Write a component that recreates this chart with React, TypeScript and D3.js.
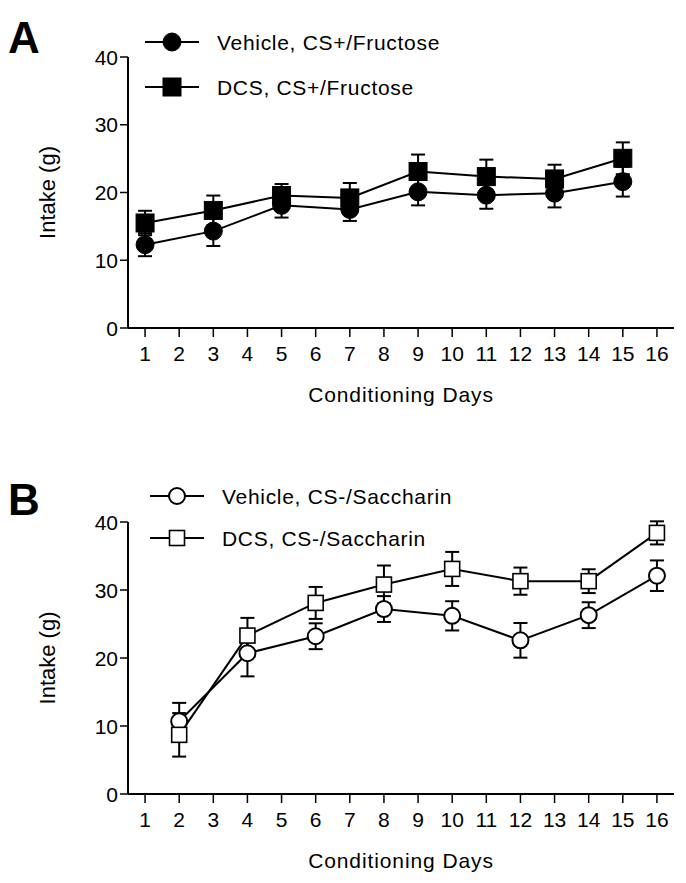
import React from "react";
import * as d3 from "d3";

const dayTicks = [1, 2, 3, 4, 5, 6, 7, 8, 9, 10, 11, 12, 13, 14, 15, 16];
const yTicks = [0, 10, 20, 30, 40];

const daysA = [1, 3, 5, 7, 9, 11, 13, 15];
const vehicleA = [12.3, 14.3, 18.1, 17.5, 20.1, 19.6, 19.9, 21.6];
const vehicleAErr = [1.7, 2.2, 1.8, 1.7, 2.0, 2.0, 2.1, 2.2];
const dcsA = [15.5, 17.35, 19.55, 19.2, 23.1, 22.35, 22.0, 25.05];
const dcsAErr = [1.8, 2.2, 1.7, 2.2, 2.5, 2.5, 2.1, 2.35];

const daysB = [2, 4, 6, 8, 10, 12, 14, 16];
const vehicleB = [10.7, 20.7, 23.2, 27.2, 26.2, 22.6, 26.3, 32.1];
const vehicleBErr = [2.7, 3.4, 1.9, 1.9, 2.15, 2.55, 1.9, 2.25];
const dcsB = [8.7, 23.3, 28.1, 30.8, 33.1, 31.3, 31.3, 38.4];
const dcsBErr = [3.2, 2.6, 2.35, 2.8, 2.5, 2.0, 1.75, 1.7];

const FONT = "'Liberation Sans', Arial, Helvetica, sans-serif";

type Series = {
  name: string;
  days: number[];
  values: number[];
  errs: number[];
  shape: "circle" | "square";
  filled: boolean;
};

type PanelProps = {
  letter: string;
  y0: number;
  y40: number;
  series: Series[];
  legendY: number[];
  legendX: number;
  markerR: number;
  letterY: number;
};

function Marker({ shape, filled, cx, cy, r }: { shape: string; filled: boolean; cx: number; cy: number; r: number }) {
  const fill = filled ? "#000" : "#fff";
  if (shape === "circle") {
    return <circle cx={cx} cy={cy} r={r} fill={fill} stroke="#000" strokeWidth={filled ? 1 : 2} />;
  }
  const s = filled ? r * 2 : r * 2 - 1;
  return <rect x={cx - s / 2} y={cy - s / 2} width={s} height={s} fill={fill} stroke="#000" strokeWidth={filled ? 1 : 1.6} />;
}

function Panel({ letter, y0, y40, series, legendY, legendX, markerR, letterY }: PanelProps) {
  const x = d3.scaleLinear().domain([0.5, 16.5]).range([128, 674]);
  const y = d3.scaleLinear().domain([0, 40]).range([y0, y40]);
  const line = d3
    .line<[number, number]>()
    .x((d) => x(d[0]))
    .y((d) => y(d[1]));
  const cap = 7;
  return (
    <g>
      <text x={8} y={letterY} fontFamily={FONT} fontWeight="bold" fontSize={44}>
        {letter}
      </text>
      <line x1={x(0.5)} x2={x(0.5)} y1={y(40)} y2={y(0)} stroke="#000" strokeWidth={2} />
      <line x1={x(0.5)} x2={x(16.5)} y1={y(0)} y2={y(0)} stroke="#000" strokeWidth={2} />
      {yTicks.map((t) => (
        <g key={"y" + t}>
          <line x1={x(0.5) - 8} x2={x(0.5)} y1={y(t)} y2={y(t)} stroke="#000" strokeWidth={1.5} />
          <text x={x(0.5) - 10} y={y(t)} dy="0.36em" textAnchor="end" fontFamily={FONT} fontSize={21}>
            {t}
          </text>
        </g>
      ))}
      {dayTicks.map((t) => (
        <g key={"x" + t}>
          <line x1={x(t)} x2={x(t)} y1={y(0)} y2={y(0) + 9} stroke="#000" strokeWidth={1.5} />
          <text x={x(t)} y={y(0) + 25} dy="0.36em" textAnchor="middle" fontFamily={FONT} fontSize={21}>
            {t}
          </text>
        </g>
      ))}
      <text x={x(8.5)} y={y(0) + 66} dy="0.36em" textAnchor="middle" fontFamily={FONT} fontSize={21} letterSpacing={0.9}>
        Conditioning Days
      </text>
      <text
        transform={`translate(47,${(y(0) + y(40)) / 2}) rotate(-90)`}
        textAnchor="middle"
        dy="0.36em"
        fontFamily={FONT}
        fontSize={22}
      >
        Intake (g)
      </text>
      {series.map((s) => (
        <path
          key={"l" + s.name}
          d={line(s.days.map((d, i) => [d, s.values[i]] as [number, number])) || ""}
          fill="none"
          stroke="#000"
          strokeWidth={2}
        />
      ))}
      {series.map((s) =>
        s.days.map((d, i) => {
          const cx = x(d);
          const lo = y(s.values[i] - s.errs[i]);
          const hi = y(s.values[i] + s.errs[i]);
          return (
            <g key={"e" + s.name + d}>
              <line x1={cx} x2={cx} y1={lo} y2={hi} stroke="#000" strokeWidth={2} />
              <line x1={cx - cap} x2={cx + cap} y1={lo} y2={lo} stroke="#000" strokeWidth={2} />
              <line x1={cx - cap} x2={cx + cap} y1={hi} y2={hi} stroke="#000" strokeWidth={2} />
            </g>
          );
        })
      )}
      {series.map((s) =>
        s.days.map((d, i) => (
          <Marker key={"m" + s.name + d} shape={s.shape} filled={s.filled} cx={x(d)} cy={y(s.values[i])} r={markerR} />
        ))
      )}
      {series.map((s, i) => (
        <g key={"lg" + s.name}>
          <line x1={legendX} x2={legendX + 54} y1={legendY[i]} y2={legendY[i]} stroke="#000" strokeWidth={2} />
          <Marker shape={s.shape} filled={s.filled} cx={legendX + 27} cy={legendY[i]} r={markerR} />
          <text x={legendX + 72} y={legendY[i]} dy="0.36em" fontFamily={FONT} fontSize={21} letterSpacing={0.7}>
            {s.name}
          </text>
        </g>
      ))}
    </g>
  );
}

export default function App() {
  const seriesA: Series[] = [
    { name: "Vehicle, CS+/Fructose", days: daysA, values: vehicleA, errs: vehicleAErr, shape: "circle", filled: true },
    { name: "DCS, CS+/Fructose", days: daysA, values: dcsA, errs: dcsAErr, shape: "square", filled: true },
  ];
  const seriesB: Series[] = [
    { name: "Vehicle, CS-/Saccharin", days: daysB, values: vehicleB, errs: vehicleBErr, shape: "circle", filled: false },
    { name: "DCS, CS-/Saccharin", days: daysB, values: dcsB, errs: dcsBErr, shape: "square", filled: false },
  ];
  return (
    <svg width={686} height={883} style={{ position: "absolute", left: 0, top: 0, background: "#fff" }}>
      <rect width={686} height={883} fill="#fff" />
      <Panel letter="A" y0={328} y40={57} series={seriesA} legendY={[42, 87]} legendX={145} markerR={9} letterY={53} />
      <Panel letter="B" y0={794} y40={522} series={seriesB} legendY={[496, 538]} legendX={150} markerR={8} letterY={515} />
    </svg>
  );
}
